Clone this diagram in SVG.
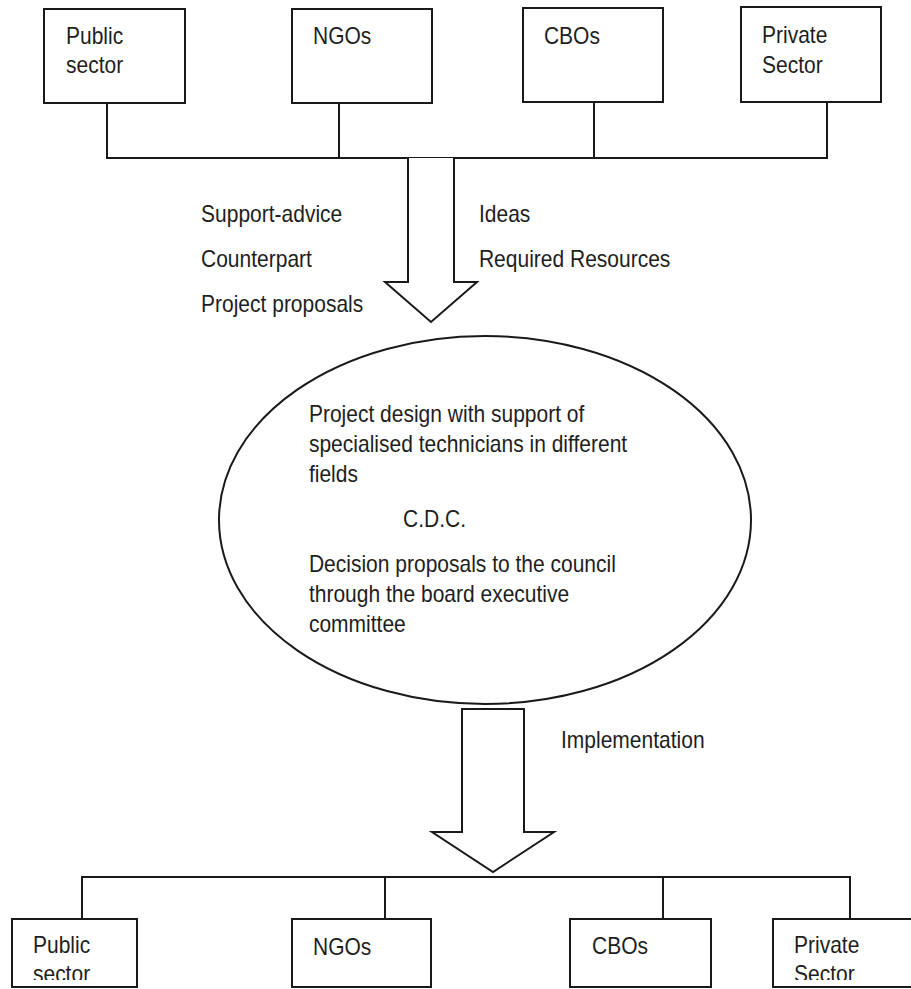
<svg xmlns="http://www.w3.org/2000/svg" width="911" height="989" viewBox="0 0 911 989">
<style>
.box{fill:#fff;stroke:#1a1a1a;stroke-width:2}
.ln{fill:none;stroke:#1a1a1a;stroke-width:2}
.arr{fill:#fff;stroke:#1a1a1a;stroke-width:2;stroke-linejoin:miter}
.t{font-family:"Liberation Sans",Arial,sans-serif;font-size:23px;fill:#1e1e1e}
</style>
<defs>
<clipPath id="bottomClip"><rect x="0" y="900" width="911" height="80"/></clipPath>
</defs>
<rect width="911" height="989" fill="#fff"/>

<g id="connectors">
<path class="ln" d="M107 88V158H827V87M339 88V158M594 87V158"/>
<path class="ln" d="M82 923V877H850V923M385 877V923M663 877V923"/>
<path id="arrow-top" class="arr" d="M408 158V282H385L431 322L477 282H454V158"/>
<path id="arrow-bottom" class="arr" d="M462 709V832H432L493 872L554 832H524V709Z"/>
</g>

<g id="top-public">
<rect class="box" x="44" y="9" width="141" height="94"/>
<text class="t" transform="scale(0.913 1)"><tspan x="72.3" y="44">Public</tspan><tspan x="72.3" y="73">sector</tspan></text>
</g>
<g id="top-ngos">
<rect class="box" x="292" y="9" width="140" height="94"/>
<text class="t" transform="scale(0.913 1)" x="342.8" y="44">NGOs</text>
</g>
<g id="top-cbos">
<rect class="box" x="523" y="8" width="140" height="94"/>
<text class="t" transform="scale(0.913 1)" x="595.8" y="44">CBOs</text>
</g>
<g id="top-private">
<rect class="box" x="741" y="7" width="140" height="95"/>
<text class="t" transform="scale(0.913 1)"><tspan x="834.6" y="43">Private</tspan><tspan x="834.6" y="73">Sector</tspan></text>
</g>

<g id="inputs-labels">
<text class="t" transform="scale(0.913 1)"><tspan x="220.2" y="222">Support-advice</tspan><tspan x="220.2" y="267">Counterpart</tspan><tspan x="220.2" y="312">Project proposals</tspan></text>
<text class="t" transform="scale(0.913 1)"><tspan x="524.6" y="222">Ideas</tspan><tspan x="524.6" y="267">Required Resources</tspan></text>
</g>

<g id="cdc">
<ellipse class="box" cx="485" cy="520" rx="266" ry="184"/>
<text class="t" transform="scale(0.913 1)"><tspan x="338.4" y="422">Project design with support of</tspan><tspan x="338.4" y="452">specialised technicians in different</tspan><tspan x="338.4" y="482">fields</tspan><tspan x="441.4" y="527">C.D.C.</tspan><tspan x="338.4" y="572">Decision proposals to the council</tspan><tspan x="338.4" y="602">through the board executive</tspan><tspan x="338.4" y="632">committee</tspan></text>
</g>

<g id="implementation-label">
<text class="t" transform="scale(0.913 1)" x="614.5" y="748">Implementation</text>
</g>

<g id="bottom-public">
<rect class="box" x="12" y="919" width="125" height="68"/>
<g clip-path="url(#bottomClip)"><text class="t" transform="scale(0.913 1)"><tspan x="36.1" y="953">Public</tspan><tspan x="36.1" y="982">sector</tspan></text></g>
</g>
<g id="bottom-ngos">
<rect class="box" x="292" y="919" width="139" height="68"/>
<text class="t" transform="scale(0.913 1)" x="342.8" y="955">NGOs</text>
</g>
<g id="bottom-cbos">
<rect class="box" x="570" y="919" width="141" height="68"/>
<text class="t" transform="scale(0.913 1)" x="648.4" y="954">CBOs</text>
</g>
<g id="bottom-private">
<rect class="box" x="773" y="919" width="150" height="68"/>
<g clip-path="url(#bottomClip)"><text class="t" transform="scale(0.913 1)"><tspan x="869.7" y="953">Private</tspan><tspan x="869.7" y="982">Sector</tspan></text></g>
</g>
</svg>
